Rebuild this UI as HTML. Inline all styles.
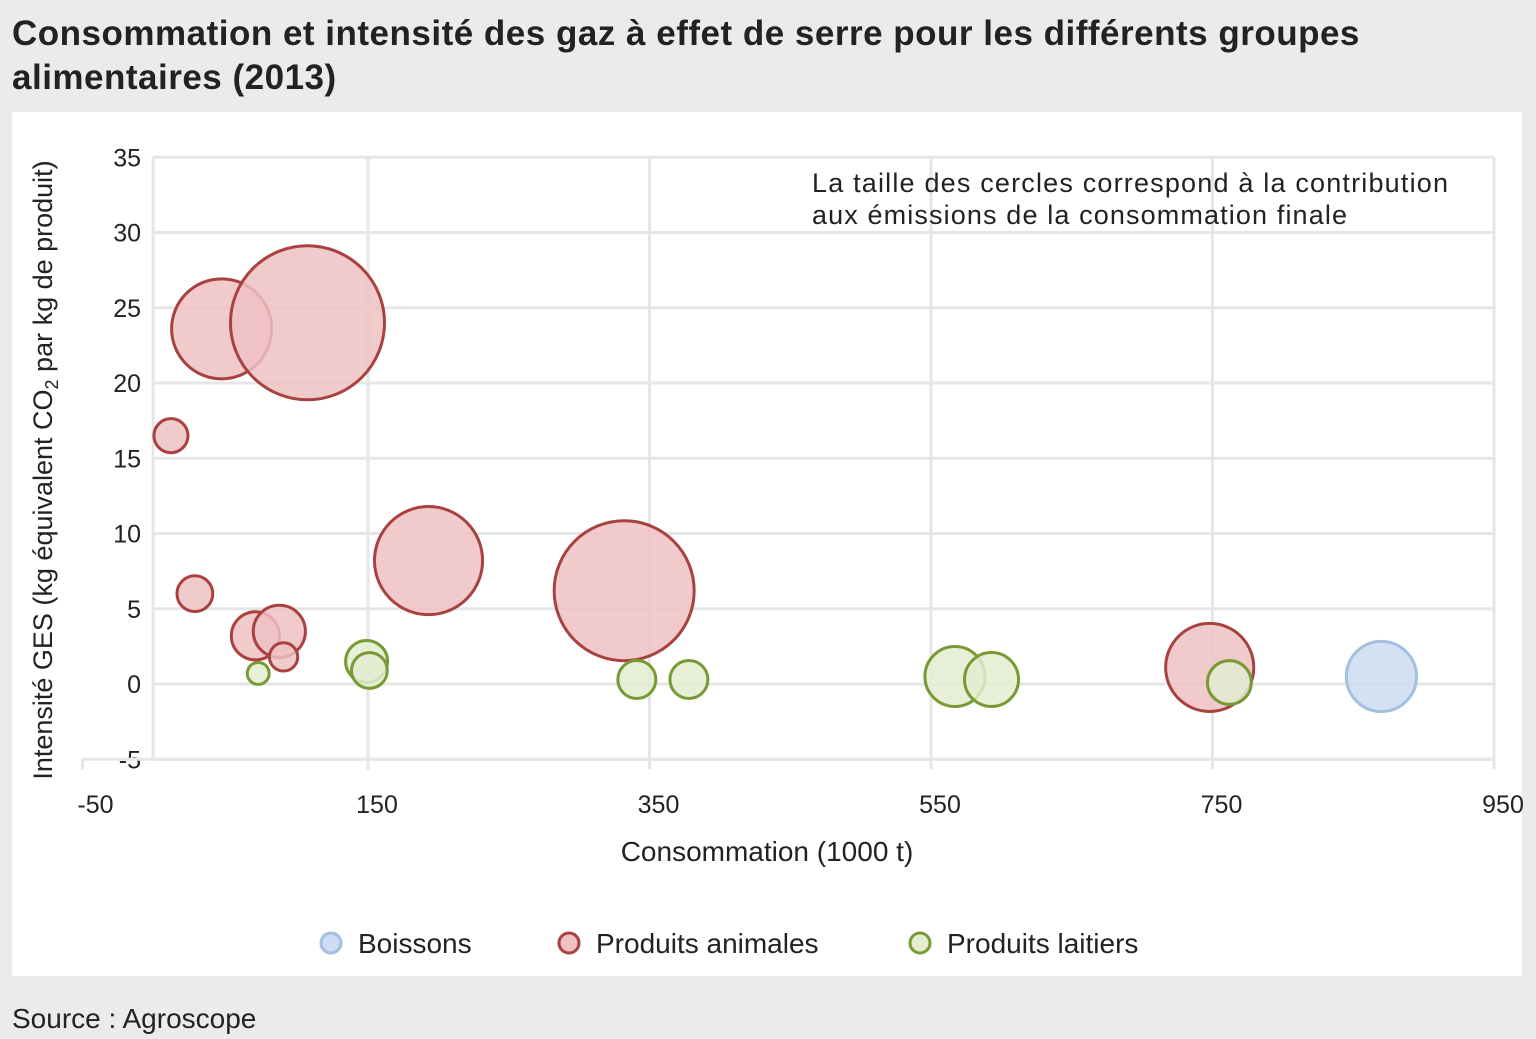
<!DOCTYPE html>
<html><head><meta charset="utf-8">
<style>
body{margin:0;width:1536px;height:1039px;background:#ebebeb;font-family:"Liberation Sans",sans-serif;overflow:hidden;position:relative}
#title{position:absolute;left:12px;top:12px;font-size:35px;font-weight:bold;line-height:44px;color:#222;letter-spacing:0.5px}
#panel{position:absolute;left:12px;top:112px;width:1510px;height:864px;background:#fff}
#source{position:absolute;left:12px;top:1003px;font-size:28px;color:#222}
svg{position:absolute;left:0;top:0}
</style></head><body>
<div id="title">Consommation et intensité des gaz à effet de serre pour les différents groupes<br>alimentaires (2013)</div>
<div id="panel"></div>
<div id="source">Source : Agroscope</div>
<svg id="chart" width="1536" height="1039"></svg>
<script>
const xTicks=[-50,150,350,550,750,950];
const yTicks=[-5,0,5,10,15,20,25,30,35];
const animalX=[46,107,10,27,193,332,70,87,90,748];
const animalY=[23.6,24.0,16.5,6.0,8.2,6.2,3.2,3.5,1.8,1.1];
const animalC=[25,59.3,2.9,3.2,29.2,49,5.8,6.8,2,19.4];
const dairyX=[72,149,151,341,378,567,593,762];
const dairyY=[0.7,1.5,0.9,0.3,0.3,0.5,0.3,0.1];
const dairyC=[1.2,4.4,3.2,3.6,3.6,9,7.3,4.8];
const drinkX=[870];
const drinkY=[0.5];
const drinkC=[12.3];
const legendLabels=["Boissons","Produits animales","Produits laitiers"];

const NS="http://www.w3.org/2000/svg";
const svg=document.getElementById('chart');
const X=v=>368+(v-150)*1.4075;
const Y=v=>684-v*15.05;
const R=c=>10*Math.sqrt(c);
function mk(t,a,p){const e=document.createElementNS(NS,t);for(const k in a)e.setAttribute(k,a[k]);(p||svg).appendChild(e);return e;}
const px0=153,x1=X(950),y0=Y(-5),y1=Y(35);
const G='#e6e6e6';
yTicks.forEach(v=>{
  const l=mk('line',{x1:px0,x2:x1,y1:Y(v),y2:Y(v),stroke:G,'stroke-width':3});
  
  
  const t=mk('text',{x:141,y:Y(v)+9,'text-anchor':'end','font-size':25,fill:'#222'});
  t.textContent=v;
  
  
});
const bl=mk('line',{x1:X(-50)-4,x2:x1,y1:y0,y2:y0,stroke:G,'stroke-width':3});


const lb=mk('line',{x1:px0,x2:px0,y1:y1,y2:y0,stroke:G,'stroke-width':3});


xTicks.forEach(v=>{
  const xx=v===-50?X(v)-4:X(v);
  const l=mk('line',{x1:xx,x2:xx,y1:v===-50?y0:y1,y2:y0+10,stroke:G,'stroke-width':3});
  
  
  const t=mk('text',{x:X(v)+9,y:813,'text-anchor':'middle','font-size':25,fill:'#222'});
  t.textContent=v;
  
  
});
function series(xs,ys,cs,fill,stroke,name){
  xs.forEach((v,i)=>{
    const c=mk('circle',{cx:X(v),cy:Y(ys[i]),r:R(cs[i]),fill:fill,'fill-opacity':0.85,stroke:stroke,'stroke-width':3});
    
    
  });
}
series(animalX,animalY,animalC,'#efc1c3','#a8413f','bubble-animal');
series(dairyX,dairyY,dairyC,'#e3ecd0','#789a35','bubble-dairy');
series(drinkX,drinkY,drinkC,'#cddcf0','#a3c0e3','bubble-drink');
const a1=mk('text',{x:812,y:192,'font-size':27,fill:'#222',textLength:636});a1.textContent='La taille des cercles correspond à la contribution';


const a2=mk('text',{x:812,y:224,'font-size':27,fill:'#222',textLength:535});a2.textContent='aux émissions de la consommation finale';


const xt=mk('text',{x:767,y:861,'text-anchor':'middle','font-size':28,fill:'#222'});xt.textContent='Consommation (1000 t)';


const yt=mk('text',{x:0,y:0,'text-anchor':'middle','font-size':27,fill:'#222',transform:'translate(52,470) rotate(-90)'});
yt.innerHTML='Intensité GES (kg équivalent CO<tspan font-size="18" dy="6">2</tspan><tspan dy="-6"> par kg de produit)</tspan>';


const lx=[331,569,920],lf=['#cddcf0','#efc1c3','#e3ecd0'],ls=['#a3c0e3','#a8413f','#789a35'];
legendLabels.forEach((s,i)=>{
  const c=mk('circle',{cx:lx[i],cy:943,r:10,fill:lf[i],stroke:ls[i],'stroke-width':3});
  
  
  const t=mk('text',{x:lx[i]+27,y:953,'font-size':28,fill:'#222'});t.textContent=s;
  
  
});
</script>
</body></html>
